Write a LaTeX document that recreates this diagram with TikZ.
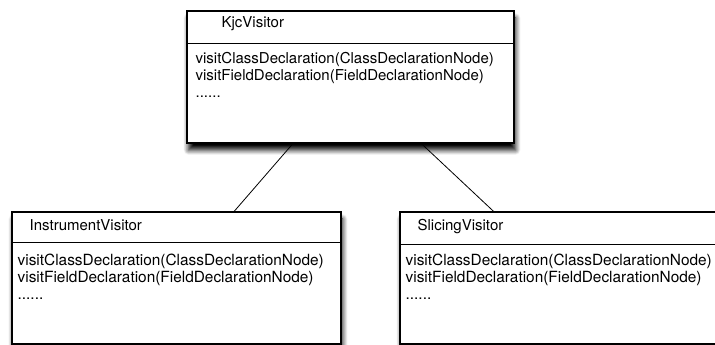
\documentclass[tikz,border=0pt]{standalone}
\usepackage{fontspec}
\setmainfont{TeX Gyre Heros}
\usetikzlibrary{shadows.blur}

\tikzset{
  classbox/.style={draw, fill=white, line width=1.1pt, inner sep=0pt,
    minimum width=329pt, minimum height=132pt,
    blur shadow={shadow xshift=1.5pt, shadow yshift=-7pt,
      shadow blur radius=5pt, shadow blur steps=8, shadow opacity=100}},
  classname/.style={anchor=base west, inner sep=0pt,
    font=\fontsize{15}{17}\selectfont},
  methods/.style={anchor=base west, inner sep=0pt, align=left,
    font=\fontsize{15}{17}\selectfont},
  bigger/.style={font=\fontsize{15.4}{17}\selectfont},
  divider/.style={line width=1.1pt},
  inherit/.style={line width=0.8pt}
}

\begin{document}
\begin{tikzpicture}[x=1pt, y=1pt]
    \clip (0,0) rectangle (715,345);

    % the three classes
    \node[classbox, minimum width=327pt] (kjc) at (350.5,268) {};
    \node[classbox] (instr)   at (176.5,67) {};
    \node[classbox] (slicing) at (564.5,67) {};

    % compartments
    \draw[divider] ([yshift=-33pt]kjc.north west)     -- ([yshift=-33pt]kjc.north east);
    \draw[divider] ([yshift=-31pt]instr.north west)   -- ([yshift=-31pt]instr.north east);
    \draw[divider] ([yshift=-33pt]slicing.north west) -- ([yshift=-33pt]slicing.north east);

    % class names
    \node[classname] (kjcname)     at ([xshift=35pt, yshift=-16.7pt]kjc.north west)   {KjcVisitor};
    \node[classname] (instrname)   at ([xshift=18pt, yshift=-19pt]instr.north west)   {InstrumentVisitor};
    \node[classname] (slicingname) at ([xshift=18pt, yshift=-19pt]slicing.north west) {SlicingVisitor};

    % operations (base = baseline of the last line)
    \node[methods] (kjcops) at ([xshift=9pt, yshift=-87.3pt]kjc.north west)
        {visitClassDeclaration(ClassDeclarationNode)\\
         visitFieldDeclaration(FieldDeclarationNode)\\
         ......};
    \node[methods, bigger] (instrops) at ([xshift=6pt, yshift=-88pt]instr.north west)
        {visitClassDeclaration(ClassDeclarationNode)\\
         visitFieldDeclaration(FieldDeclarationNode)\\
         ......};
    \node[methods, bigger] (slicingops) at ([xshift=6pt, yshift=-88pt]slicing.north west)
        {visitClassDeclaration(ClassDeclarationNode)\\
         visitFieldDeclaration(FieldDeclarationNode)\\
         ......};

    % Draw the edges
    \draw[inherit] (kjc) -- (instr);
    \draw[inherit] (kjc) -- (slicing);
\end{tikzpicture}
\end{document}
